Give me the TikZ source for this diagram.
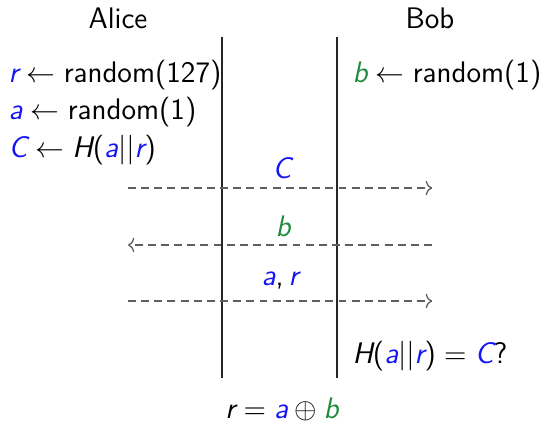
\documentclass[tikz,border=0pt]{standalone}
\usetikzlibrary{arrows.meta}
\definecolor{cblue}{RGB}{20,20,245}
\definecolor{cgreen}{RGB}{30,140,60}
\definecolor{cline}{RGB}{95,95,95}
\tikzset{
  txt/.style={inner sep=0pt, font=\sffamily\fontsize{11.3}{13.5}\selectfont},
  life/.style={draw=black!85, line width=0.5pt},
  msg/.style={draw=cline, line width=0.5pt, dash pattern=on 3pt off 2pt, -{To[length=2.4pt,width=5.5pt]}},
}
\newcommand{\mv}[1]{{\slshape #1}}
\newcommand{\bl}[1]{\textcolor{cblue}{\mv{#1}}}
\newcommand{\gr}[1]{\textcolor{cgreen}{\mv{#1}}}
\newcommand{\thk}{\hspace{0.278em}}
\newcommand{\la}{\thk$\leftarrow$\thk}
\newcommand{\eqs}{\thk$=$\thk}
\newcommand{\xors}{\hspace{0.222em}$\oplus$\hspace{0.222em}}
\begin{document}
\begin{tikzpicture}[x=0.38pt,y=-0.38pt]
\useasboundingbox (0,0) rectangle (543,427);
\node[txt, anchor=base] (alice) at (118,28) {Alice};
\node[txt, anchor=base] (bob) at (430,28) {Bob};
\coordinate (l1t) at (222,37); \coordinate (l1b) at (222,378);
\coordinate (l2t) at (337,37); \coordinate (l2b) at (337,378);
\draw[life] (l1t) -- (l1b);
\draw[life] (l2t) -- (l2b);
\node[txt, anchor=base west] (a1) at (8,82) {\bl{r}\la random(127)};
\node[txt, anchor=base west] (a2) at (8,119.5) {\bl{a}\la random(1)};
\node[txt, anchor=base west] (a3) at (8,157) {\bl{C}\la\mv{H}(\bl{a}||\bl{r})};
\node[txt, anchor=base west] (b1) at (352,82) {\gr{b}\la random(1)};
\coordinate (m1s) at (128,188); \coordinate (m1e) at (432,188);
\coordinate (m2s) at (432,245); \coordinate (m2e) at (128,245);
\coordinate (m3s) at (128,301); \coordinate (m3e) at (432,301);
\draw[msg] (m1s) -- (m1e);
\draw[msg] (m2s) -- (m2e);
\draw[msg] (m3s) -- (m3e);
\node[txt, anchor=base] (lc) at (282,178) {\bl{C}};
\node[txt, anchor=base] (lb) at (283,236) {\gr{b}};
\node[txt, anchor=base] (lar) at (280,285) {\bl{a},\hspace{0.167em}\bl{r}};
\node[txt, anchor=base west] (chk) at (352,363) {\mv{H}(\bl{a}||\bl{r})\eqs\bl{C}?};
\node[txt, anchor=base] (res) at (282,418) {\mv{r}\eqs\bl{a}\xors\gr{b}};
\end{tikzpicture}
\end{document}
